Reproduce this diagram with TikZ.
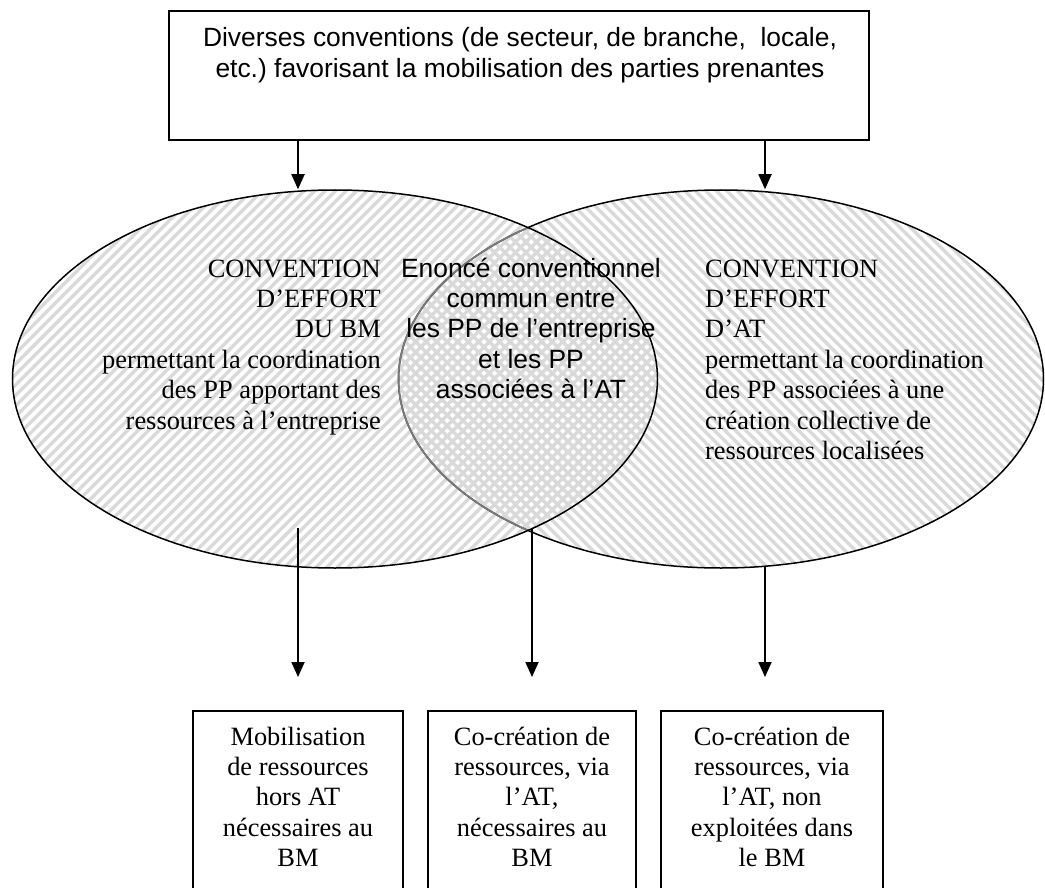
\documentclass[tikz,border=0pt]{standalone}
\usepackage{fontspec}
\setmainfont{Liberation Serif}
\newfontfamily\arialfont{Liberation Sans}
\usepackage{xcolor}
\definecolor{hachureGris}{HTML}{D9D9D9}
\definecolor{contourGris}{HTML}{7A7A7A}
\usepackage{tikz}
\usetikzlibrary{shapes.geometric,arrows.meta,positioning,calc}
\frenchspacing
\tikzset{
    boite/.style={
        draw=black,
        rectangle,
        line width=1.8pt,
        inner sep=0pt
    },
    bulle/.style={
        draw=black,
        ellipse,
        line width=1.5pt,
        minimum width=645pt,
        minimum height=378pt,
        inner sep=0pt
    },
    texteTimes/.style={
        font=\fontsize{26.4}{30.4}\selectfont,
        inner sep=0pt
    },
    texteArial/.style={
        font=\arialfont\fontsize{26.4}{30.4}\selectfont,
        inner sep=0pt
    },
    hachure/.style={
        line width=3.2pt,
        color=hachureGris
    },
    fleche/.style={
        -{Triangle[width=13pt,length=15pt]},
        line width=1.8pt,
        color=black
    }
}

\begin{document}
\begin{tikzpicture}[x=1pt,y=-1pt]
    \useasboundingbox (0,0) rectangle (1045,888);

    % Hachures des deux conventions
    \begin{scope}
        \clip (335,379) ellipse [x radius=322.5, y radius=189];
        \foreach \i in {-420,-409.5,...,680}
            \draw[hachure] (\i,600) -- ++(420,-420);
    \end{scope}
    \begin{scope}
        \clip (721,379) ellipse [x radius=322.5, y radius=189];
        \foreach \i in {-40,-29.5,...,1060}
            \draw[hachure] (\i,180) -- ++(420,420);
    \end{scope}

    % Ellipses
    \node[bulle] (droite) at (721,379) {};
    \begin{scope}
        \clip (335,379) ellipse [x radius=322.5, y radius=189];
        \draw[contourGris, line width=1.7pt] (721,379) ellipse [x radius=322.5, y radius=189];
    \end{scope}
    \node[bulle] (gauche) at (335,379) {};

    % Boite du haut (base = derniere ligne)
    \node[boite, minimum width=700pt, minimum height=129pt, anchor=north west] (divers) at (168,10) {};
    \node[texteArial, align=center, anchor=base] (diversTexte) at (520,77.4)
        {Diverses conventions (de secteur, de branche,~ locale,\\etc.) favorisant la mobilisation des parties prenantes};

    % Textes des ellipses
    \node[texteTimes, align=right, anchor=base east] (conventionBM) at (381,429)
        {CONVENTION\\D’EFFORT\\DU BM\\permettant la coordination\\des PP apportant des\\ressources à l’entreprise};
    \node[texteArial, align=center, anchor=base] (enonce) at (531,398.6)
        {Enoncé conventionnel\\commun entre\\les PP de l’entreprise\\et les PP\\associées à l’AT};
    \node[texteTimes, align=left, anchor=base west] (conventionAT) at (705,459.4)
        {CONVENTION\\D’EFFORT\\D’AT\\permettant la coordination\\des PP associées à une\\création collective de\\ressources localisées};

    % Boites du bas
    \node[boite, minimum width=210pt, minimum height=200pt, anchor=north] (boiteA) at (298,710) {};
    \node[boite, minimum width=208pt, minimum height=200pt, anchor=north] (boiteB) at (532,710) {};
    \node[boite, minimum width=222pt, minimum height=200pt, anchor=north] (boiteC) at (772,710) {};
    \node[texteTimes, align=center, anchor=base] (texteA) at ($(boiteA.north)+(0,156.6)$)
        {Mobilisation\\de ressources\\hors AT\\nécessaires au\\BM};
    \node[texteTimes, align=center, anchor=base] (texteB) at ($(boiteB.north)+(0,156.6)$)
        {Co-création de\\ressources, via\\l’AT,\\nécessaires au\\BM};
    \node[texteTimes, align=center, anchor=base] (texteC) at ($(boiteC.north)+(0,156.6)$)
        {Co-création de\\ressources, via\\l’AT, non\\exploitées dans\\le BM};

    % Departs des fleches
    \coordinate (departA) at (298,528);
    \coordinate (inter) at (532,528);
    \coordinate (departC) at (765,566);

    % Fleches
    \draw[fleche] (divers.south -| boiteA.north) -- (gauche.north -| boiteA.north);
    \draw[fleche] (divers.south -| departC) -- (droite.north -| departC);
    \draw[fleche, shorten >=33pt] (departA) -- (boiteA.north);
    \draw[fleche, shorten >=33pt] (inter) -- (boiteB.north);
    \draw[fleche, shorten >=33pt] (departC) -- (departC |- boiteC.north);
\end{tikzpicture}
\end{document}
